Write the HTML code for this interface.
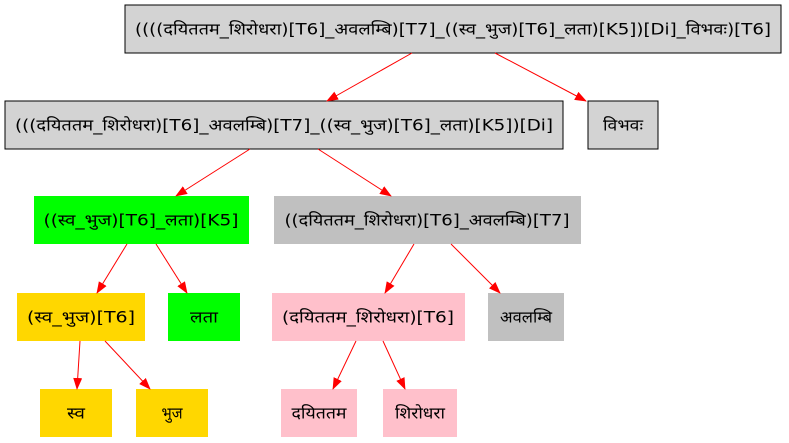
<!DOCTYPE html>
<html><head><meta charset="utf-8"><style>
html,body{margin:0;padding:0;background:#fff;width:789px;height:443px;overflow:hidden}
text{font-family:"DejaVu Sans","Liberation Sans",sans-serif;font-size:16px;text-anchor:middle;dominant-baseline:central;fill:#000}
</style></head><body>
<svg width="789" height="443" viewBox="0 0 789 443" xmlns="http://www.w3.org/2000/svg">
<defs><marker id="a" markerWidth="12" markerHeight="10" refX="11" refY="5" orient="auto" markerUnits="userSpaceOnUse"><path d="M0,0.5 L12,5 L0,9.5 z" fill="red"/></marker></defs>
<rect x="125" y="5" width="656" height="48" fill="#d3d3d3" stroke="#000"/>
<text x="453" y="29" textLength="636" lengthAdjust="spacingAndGlyphs">((((दयिततम_शिरोधरा)[T6]_अवलम्बि)[T7]_((स्व_भुज)[T6]_लता)[K5])[Di]_विभवः)[T6]</text>
<rect x="5" y="101" width="558" height="48" fill="#d3d3d3" stroke="#000"/>
<text x="284" y="125" textLength="538" lengthAdjust="spacingAndGlyphs">(((दयिततम_शिरोधरा)[T6]_अवलम्बि)[T7]_((स्व_भुज)[T6]_लता)[K5])[Di]</text>
<rect x="588" y="101" width="70" height="48" fill="#d3d3d3" stroke="#000"/>
<text x="623" y="125" textLength="40" lengthAdjust="spacingAndGlyphs">विभवः</text>
<rect x="34" y="196" width="215" height="48" fill="#00ff00"/>
<text x="141" y="220" textLength="195" lengthAdjust="spacingAndGlyphs">((स्व_भुज)[T6]_लता)[K5]</text>
<rect x="274" y="196" width="307" height="48" fill="#c0c0c0"/>
<text x="427" y="220" textLength="285" lengthAdjust="spacingAndGlyphs">((दयिततम_शिरोधरा)[T6]_अवलम्बि)[T7]</text>
<rect x="17" y="293" width="128" height="48" fill="#ffd700"/>
<text x="81" y="317" textLength="108" lengthAdjust="spacingAndGlyphs">(स्व_भुज)[T6]</text>
<rect x="168" y="293" width="72" height="48" fill="#00ff00"/>
<text x="204" y="317" textLength="28" lengthAdjust="spacingAndGlyphs">लता</text>
<rect x="272" y="293" width="193" height="48" fill="#ffc0cb"/>
<text x="368" y="317" textLength="172" lengthAdjust="spacingAndGlyphs">(दयिततम_शिरोधरा)[T6]</text>
<rect x="488" y="293" width="76" height="48" fill="#c0c0c0"/>
<text x="526" y="317" textLength="52" lengthAdjust="spacingAndGlyphs">अवलम्बि</text>
<rect x="40" y="389" width="72" height="48" fill="#ffd700"/>
<text x="76" y="413" textLength="18" lengthAdjust="spacingAndGlyphs">स्व</text>
<rect x="136" y="389" width="72" height="48" fill="#ffd700"/>
<text x="172" y="413" textLength="21" lengthAdjust="spacingAndGlyphs">भुज</text>
<rect x="281" y="389" width="76" height="48" fill="#ffc0cb"/>
<text x="319" y="413" textLength="55" lengthAdjust="spacingAndGlyphs">दयिततम</text>
<rect x="383" y="389" width="74" height="48" fill="#ffc0cb"/>
<text x="420" y="413" textLength="50" lengthAdjust="spacingAndGlyphs">शिरोधरा</text>
<g stroke="red" stroke-width="1" marker-end="url(#a)">
<line x1="412" y1="53" x2="327" y2="101"/>
<line x1="495" y1="53" x2="586" y2="101"/>
<line x1="250" y1="149" x2="176" y2="196"/>
<line x1="318" y1="149" x2="391" y2="196"/>
<line x1="127" y1="244" x2="97" y2="293"/>
<line x1="156" y1="244" x2="187" y2="293"/>
<line x1="414" y1="244" x2="385" y2="293"/>
<line x1="451" y1="244" x2="500" y2="293"/>
<line x1="80" y1="341" x2="77" y2="389"/>
<line x1="105" y1="341" x2="150" y2="389"/>
<line x1="356" y1="341" x2="333" y2="389"/>
<line x1="383" y1="341" x2="405" y2="389"/>
</g>
</svg>
</body></html>
